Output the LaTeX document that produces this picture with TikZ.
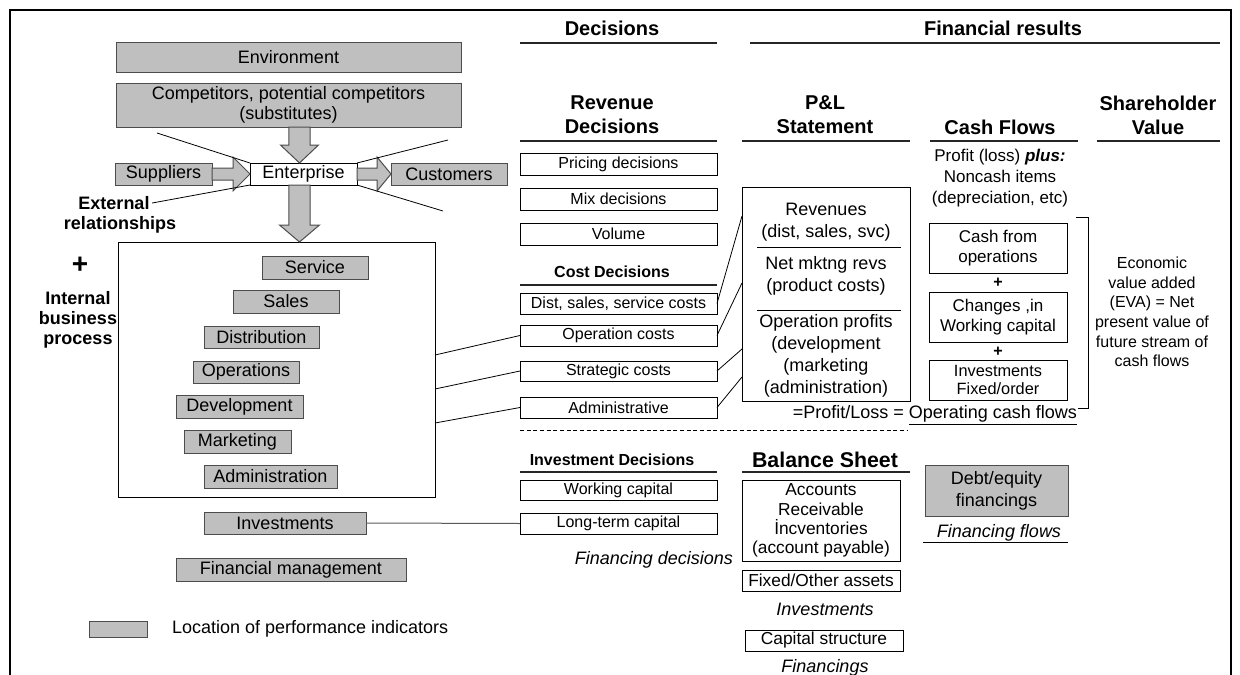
\documentclass[tikz,border=0pt]{standalone}
\usepackage{fontspec}
\setmainfont{Liberation Sans}
\usetikzlibrary{calc}
\newcommand\fz[2]{\fontsize{#1}{#2}\selectfont}
\newcommand\boxat[7]{\node[#1, minimum width={(#5-#3)*0.75pt}, minimum height={(#6-#4)*0.75pt}] (#2) at ({(#3+#5)/2},{(#4+#6)/2}) {#7};}
\newcommand\varrow[4]{\draw[barrow] let \p1=(#1), \p2=(#2) in
 (\x2-7.9pt,\y1) -- (\x2-7.9pt,\y2+#3) -- (\x2-#4,\y2+#3) -- (\x2,\y2) -- (\x2+#4,\y2+#3) -- (\x2+7.9pt,\y2+#3) -- (\x2+7.9pt,\y1) -- cycle;}
\newcommand\harrow[3]{\draw[barrow] let \p1=(#1), \p2=(#2) in
 (\x1,\y2+4.5pt) -- (\x2-#3,\y2+4.5pt) -- (\x2-#3,\y2+12.75pt) -- (\x2,\y2) -- (\x2-#3,\y2-12.75pt) -- (\x2-#3,\y2-4.5pt) -- (\x1,\y2-4.5pt) -- cycle;}
\begin{document}
\begin{tikzpicture}[x=0.75pt,y=-0.75pt,
 gbox/.style={draw=black!70, fill=gray!50, line width=0.75pt, inner sep=0pt, outer sep=0pt, align=center},
 wbox/.style={draw=black, fill=white, line width=0.75pt, inner sep=0pt, outer sep=0pt, align=center},
 txt/.style={inner sep=0pt, outer sep=0pt, align=center},
 barrow/.style={draw=black!70, fill=gray!50, line width=0.75pt, line join=miter},
 conn/.style={line width=0.6pt, draw=black},
 hline/.style={line width=0.8pt, draw=black!85},
 ftL/.style={font=\fz{13.5}{15}},
 ftLb/.style={font=\bfseries\fz{13.5}{15}},
 ftH/.style={font=\bfseries\fz{15}{18}},
 ftHs/.style={font=\bfseries\fz{12}{14}},
 ftD/.style={font=\fz{12}{14}},
 ftP/.style={font=\fz{13.5}{16.5}},
 ftB/.style={font=\fz{13}{14.5}},
 ftC/.style={font=\fz{12.75}{14.5}},
 ftE/.style={font=\fz{12}{14.7}},
 ftI/.style={font=\itshape\fz{13.5}{16}},
]
\useasboundingbox (0,0) rectangle (1240,675);
% outer frame
\draw[line width=1.5pt] (10,675) -- (10,10) -- (1231,10) -- (1231,675);

% ---------- left column ----------
\boxat{gbox,ftL}{env}{116}{42}{461}{72}{Environment}
\boxat{gbox,ftL}{comp}{116}{83}{461}{127}{Competitors, potential competitors\\(substitutes)}
\boxat{gbox,ftL}{sup}{115}{163}{212}{185}{Suppliers}
\boxat{wbox,ftL}{ent}{250}{163}{357}{185}{Enterprise}
\boxat{gbox,ftL}{cus}{391}{163}{507}{185}{Customers}
\boxat{wbox}{bigbox}{118}{242}{435}{497}{}

\varrow{comp.south}{$(ent.north)+(-4,0)$}{13.5pt}{14.25pt}
\varrow{ent.south}{$(bigbox.north)+(23,0)$}{12.75pt}{15pt}
\harrow{sup.east}{ent.west}{12.75pt}
\harrow{ent.east}{cus.west}{10.5pt}

\node[txt,ftLb] (ext1) at (114,203) {External};
\node[txt,ftLb] (ext2) at (120,225) {relationships};
\coordinate (dl1) at (157,133);
\coordinate (dr1) at (448,140);
\coordinate (dr2) at (443,211);
\draw[conn] (dl1) -- (ent.north west);
\draw[conn] ([xshift=2pt]ext1.east) -- (ent.south west);
\draw[conn] (ent.north east) -- (dr1);
\draw[conn] (ent.south east) -- (dr2);

\node[txt,font=\bfseries\fz{21}{21}] (plus) at (80,265) {+};
\node[txt,ftLb] (ibp) at (78,320) {Internal\\business\\process};

\boxat{gbox,ftL}{svc}{262}{256}{368}{279}{Service}
\boxat{gbox,ftL}{sal}{233}{290}{339}{313}{Sales}
\boxat{gbox,ftL}{dis}{204}{326}{319}{348}{Distribution}
\boxat{gbox,ftL}{ope}{193}{361}{299}{383}{Operations}
\boxat{gbox,ftL}{dev}{176}{395}{303}{418}{Development}
\boxat{gbox,ftL}{mkt}{184}{430}{291}{453}{Marketing}
\boxat{gbox,ftL}{adm}{204}{465}{337}{488}{Administration}
\boxat{gbox,ftL}{inv}{204}{512}{366}{534}{Investments}
\boxat{gbox,ftL}{fin}{176}{558}{406}{581}{Financial management}
\boxat{gbox}{leg}{89}{621}{147}{637}{}
\node[txt,ftL,anchor=west] (legt) at (172,629) {Location of performance indicators};

% ---------- decisions ----------
\node[txt,ftH] (hdec) at (612,28) {Decisions};
\draw[hline] (520,43) -- (717,43);
\node[txt,ftH] (hrev) at (612,115) {Revenue\\Decisions};
\draw[hline] (520,141) -- (717,141);
\boxat{wbox,ftD}{pri}{520}{153}{717}{175}{Pricing decisions}
\boxat{wbox,ftD}{mix}{520}{188}{717}{210}{Mix decisions}
\boxat{wbox,ftD}{vol}{520}{223}{717}{245}{Volume}
\node[txt,ftHs] (hcost) at (612,272) {Cost Decisions};
\draw[hline] (520,285) -- (717,285);
\boxat{wbox,ftD}{dsc}{520}{293}{717}{314}{Dist, sales, service costs}
\boxat{wbox,ftD}{opc}{520}{325}{717}{346}{Operation costs}
\boxat{wbox,ftD}{stc}{520}{361}{717}{381}{Strategic costs}
\boxat{wbox,ftD}{adc}{520}{397}{717}{418}{Administrative}
\draw[line width=0.6pt, dash pattern=on 3pt off 2pt] (520,430) -- (907,430);

\node[txt,ftHs] (hinv) at (612,460) {Investment Decisions};
\draw[hline] (520,472) -- (717,472);
\boxat{wbox,ftD}{wcap}{520}{480}{717}{500}{Working capital}
\boxat{wbox,ftD}{ltc}{520}{513}{717}{534}{Long-term capital}
\node[txt,ftI,anchor=east] (fdec) at (733,560) {Financing decisions};

% connectors from business process box
\coordinate (b1) at (435,355);
\coordinate (b2) at (435,389);
\coordinate (b3) at (435,423);
\draw[conn] (b1) -- (opc.west);
\draw[conn] (b2) -- (stc.west);
\draw[conn] (b3) -- (adc.west);
\draw[line width=0.75pt, draw=black!65] (inv.east) -- (ltc.west);

% ---------- financial results ----------
\node[txt,ftH] (hfin) at (1003,28) {Financial results};
\draw[hline] (750,43) -- (1220,43);
\node[txt,ftH] (hpl) at (825,115) {P\&L\\Statement};
\draw[hline] (742,141) -- (910,141);
\node[txt,ftH] (hcf) at (1000,127) {Cash Flows};
\draw[hline] (930,141) -- (1078,141);
\node[txt,ftH] (hsv) at (1158,115) {Shareholder\\Value};
\draw[hline] (1097,141) -- (1220,141);

% P&L box
\boxat{wbox}{plb}{742}{187}{910}{401}{}
\node[txt,ftP] (pl1) at (826,222) {Revenues\\(dist, sales, svc)};
\draw[conn] (757,247) -- (901,247);
\node[txt,ftP] (pl2) at (826,276) {Net mktng revs\\(product costs)};
\draw[conn] (757,310) -- (901,310);
\node[txt,ftP] (pl3) at (826,356) {Operation profits\\(development\\(marketing\\(administration)};
\coordinate (p1) at (742,216);
\coordinate (p2) at (742,283);
\coordinate (p3) at (742,349);
\coordinate (p4) at (742,377);
\draw[conn] (dsc.east) -- (p1);
\draw[conn] (opc.east) -- (p2);
\draw[conn] (stc.east) -- (p3);
\draw[conn] (adc.east) -- (p4);
\node[txt,ftP,anchor=east] (pl) at (1077,415) {=Profit/Loss = \underline{Operating cash flows}};

% cash flows
\node[txt,font=\fz{12.75}{15.75}] (prof) at (1000,178) {Profit (loss) \textbf{\textit{plus:}}\\Noncash items\\(depreciation, etc)};
\boxat{wbox,ftC}{cfo}{929}{223}{1067}{273}{Cash from\\operations}
\node[txt,font=\bfseries\fz{12}{12}] (plA) at (998,283) {+};
\boxat{wbox,ftC}{cwc}{929}{292}{1067}{342}{Changes ,in\\Working capital}
\node[txt,font=\bfseries\fz{12}{12}] (plB) at (998,352) {+};
\boxat{wbox,font=\fz{12.25}{14}}{cinv}{929}{360}{1067}{400}{Investments\\Fixed/order}
\draw[conn] (1076,217) -- (1088,217) -- (1088,408) -- (1078,408);
\node[txt,ftE] (eva) at (1152,312) {Economic\\value added\\(EVA) = Net\\present value of\\future stream of\\cash flows};

% balance sheet
\node[txt,font=\bfseries\fz{16}{18}] (hbs) at (825,460) {Balance Sheet};
\draw[hline] (742,472) -- (910,472);
\boxat{wbox,ftB}{bsb}{742}{480}{900}{561}{Accounts\\Receivable\\İncventories\\(account payable)}
\boxat{wbox,ftB}{fixa}{742}{570}{900}{591}{Fixed/Other assets}
\node[txt,ftI] (invt) at (825,609) {Investments};
\boxat{wbox,ftB}{caps}{745}{630}{903}{651}{Capital structure}
\node[txt,ftI] (fint) at (825,668) {Financings};

\boxat{gbox,font=\fz{13.5}{16.5}}{debt}{925}{465}{1068}{516}{Debt/equity\\financings}
\node[txt,ftI] (ff) at (999,533) {Financing flows};
\draw[conn] (923,542) -- (1068,542);
\end{tikzpicture}
\end{document}
